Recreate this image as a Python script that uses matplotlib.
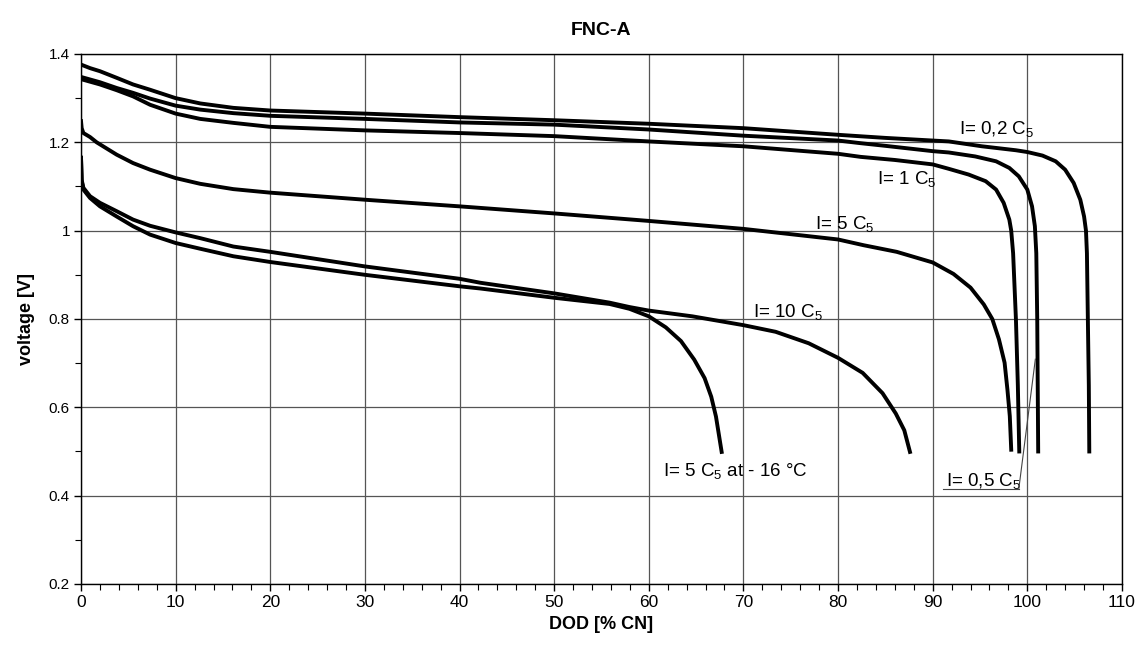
import matplotlib
matplotlib.use("Agg")
import matplotlib.pyplot as plt
from matplotlib.ticker import MultipleLocator, FuncFormatter

plt.rcParams['font.family'] = ['Liberation Sans', 'DejaVu Sans']

# discharge curves, DOD [% CN] vs voltage [V]
x_02 = [0, 0.95, 2, 3.77, 5.5, 7.3, 10, 12.6, 16.1, 20, 30, 40, 50, 60, 70, 80, 85, 90, 91.7, 95.2, 98.8,
        100, 101.6, 103.0, 104.0, 104.9, 105.6, 106.0, 106.2, 106.3, 106.4, 106.5, 106.55]
y_02 = [1.376, 1.368, 1.361, 1.346, 1.331, 1.319, 1.300, 1.288, 1.278, 1.272, 1.265, 1.257, 1.250, 1.242,
        1.232, 1.217, 1.210, 1.204, 1.202, 1.191, 1.182, 1.178, 1.170, 1.157, 1.138, 1.108, 1.070, 1.032,
        1.000, 0.949, 0.798, 0.65, 0.50]

x_05 = [0, 2, 3.77, 5.5, 7.3, 10, 12.6, 16.1, 20, 30, 40, 50, 60, 70, 80, 82.4, 85, 90, 91.7, 94.5, 96.7,
        98.1, 99.1, 100.0, 100.5, 100.8, 100.95, 101.05, 101.1, 101.15]
y_05 = [1.348, 1.336, 1.323, 1.312, 1.299, 1.283, 1.274, 1.266, 1.260, 1.253, 1.245, 1.240, 1.229, 1.215,
        1.204, 1.198, 1.192, 1.180, 1.177, 1.168, 1.157, 1.142, 1.123, 1.093, 1.055, 1.010, 0.949, 0.798,
        0.65, 0.50]

x_1 = [0, 2, 3.77, 5.5, 7.3, 10, 12.6, 16.1, 20, 30, 40, 50, 60, 70, 80, 82.4, 86, 90, 91.7, 93.8, 95.6,
       96.7, 97.5, 98.1, 98.3, 98.5, 98.8, 99.0, 99.15]
y_1 = [1.343, 1.331, 1.318, 1.304, 1.285, 1.265, 1.253, 1.244, 1.235, 1.227, 1.221, 1.214, 1.202, 1.191,
       1.174, 1.167, 1.160, 1.150, 1.140, 1.127, 1.112, 1.093, 1.063, 1.025, 1.000, 0.949, 0.798, 0.65,
       0.50]

x_5 = [0, 0.07, 0.25, 0.95, 1.65, 3.77, 5.5, 7.3, 10, 12.6, 16.1, 20, 30, 40, 50, 60, 70, 80, 82.7, 86.2,
       90, 92.2, 94.0, 95.4, 96.3, 97.0, 97.6, 97.9, 98.15, 98.3]
y_5 = [1.248, 1.232, 1.221, 1.212, 1.200, 1.172, 1.153, 1.138, 1.119, 1.106, 1.094, 1.086, 1.070, 1.055,
       1.039, 1.022, 1.004, 0.980, 0.967, 0.952, 0.928, 0.902, 0.871, 0.833, 0.800, 0.754, 0.701, 0.640,
       0.580, 0.504]

x_10 = [0, 0.07, 0.25, 0.95, 2, 3.77, 5.5, 7.3, 10, 12.6, 16.1, 20, 30, 40, 42.2, 50, 55.85, 57.96, 60,
        64.6, 70, 73.4, 76.9, 80, 82.6, 84.7, 86.1, 87.0, 87.6]
y_10 = [1.165, 1.115, 1.097, 1.078, 1.063, 1.044, 1.025, 1.011, 0.996, 0.983, 0.964, 0.952, 0.919, 0.891,
        0.882, 0.858, 0.837, 0.827, 0.819, 0.806, 0.786, 0.771, 0.745, 0.712, 0.678, 0.632, 0.586, 0.548,
        0.499]

x_cold = [0, 0.07, 0.25, 0.95, 2, 3.77, 5.5, 7.3, 10, 12.6, 16.1, 20, 30, 40, 42.2, 50, 55.85, 57.96, 60,
          61.8, 63.4, 64.8, 65.9, 66.6, 67.1, 67.7]
y_cold = [1.165, 1.112, 1.093, 1.074, 1.055, 1.032, 1.010, 0.991, 0.972, 0.959, 0.942, 0.929, 0.900, 0.874,
          0.869, 0.848, 0.834, 0.823, 0.806, 0.781, 0.750, 0.708, 0.666, 0.624, 0.579, 0.499]

curves = [(x_02, y_02), (x_05, y_05), (x_1, y_1), (x_5, y_5), (x_10, y_10), (x_cold, y_cold)]

C5 = 'C$_\\mathregular{5}$'
labels = ['I= 0,2 ' + C5, 'I= 1 ' + C5, 'I= 5 ' + C5, 'I= 10 ' + C5,
          'I= 5 ' + C5 + ' at - 16 °C', 'I= 0,5 ' + C5]
label_x = [92.8, 84.1, 77.6, 71.0, 61.5, 91.4]
label_y = [1.229, 1.115, 1.014, 0.815, 0.455, 0.432]

fig = plt.figure(figsize=(11.46, 6.48), dpi=100)
ax = fig.add_axes([0.0707, 0.0988, 0.9083, 0.8179])

for xs, ys in curves:
    ax.plot(xs, ys, color='black', linewidth=2.8, solid_joinstyle='round', zorder=3)

for t, lx, ly in zip(labels, label_x, label_y):
    ax.text(lx, ly, t, fontsize=13.5, va='center', ha='left', zorder=4)

# underline and leader line of the 0,5 C5 label
ax.plot([91.1, 99.1], [0.415, 0.415], color='#444444', linewidth=0.8, zorder=4)
ax.plot([99.1, 100.85], [0.415, 0.709], color='#444444', linewidth=0.8, zorder=4)

ax.set_xlim(0, 110)
ax.set_ylim(0.2, 1.4)
ax.xaxis.set_major_locator(MultipleLocator(10))
ax.xaxis.set_minor_locator(MultipleLocator(2))
ax.yaxis.set_major_locator(MultipleLocator(0.2))
ax.yaxis.set_minor_locator(MultipleLocator(0.1))
ax.yaxis.set_major_formatter(FuncFormatter(lambda v, p: '%g' % round(v, 2)))
ax.tick_params(axis='both', which='major', direction='out', length=5, width=1, color='black')
ax.tick_params(axis='both', which='minor', direction='out', length=4, width=0.8, color='black')
ax.tick_params(axis='x', labelsize=12.5, pad=3)
ax.tick_params(axis='y', labelsize=11, pad=3)
ax.grid(True, which='major', color='#555555', linewidth=0.9)
ax.set_axisbelow(True)
for s in ax.spines.values():
    s.set_linewidth(1.0)
    s.set_color('black')

ax.set_xlabel('DOD [% CN]', fontsize=13, fontweight='bold', labelpad=4)
ax.set_ylabel('voltage [V]', fontsize=13, fontweight='bold', labelpad=10)
ax.set_title('FNC-A', fontsize=14, fontweight='bold', pad=14)

fig.savefig('out.png', dpi=100)
